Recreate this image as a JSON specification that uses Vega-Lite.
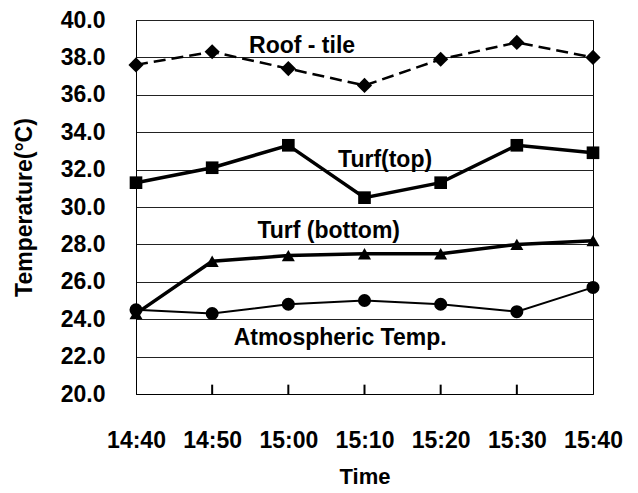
{
  "$schema": "https://vega.github.io/schema/vega-lite/v6.json",
  "width": 457,
  "height": 374,
  "autosize": "none",
  "padding": {"left": 136, "top": 20, "right": 45, "bottom": 99},
  "background": "white",
  "config": {
    "view": {"stroke": "black", "strokeWidth": 1},
    "font": "Liberation Sans"
  },
  "datasets": {
    "temps": [
      {"time": 0, "temp": 37.6, "series": "Roof-tile"},
      {"time": 10, "temp": 38.3, "series": "Roof-tile"},
      {"time": 20, "temp": 37.4, "series": "Roof-tile"},
      {"time": 30, "temp": 36.5, "series": "Roof-tile"},
      {"time": 40, "temp": 37.9, "series": "Roof-tile"},
      {"time": 50, "temp": 38.8, "series": "Roof-tile"},
      {"time": 60, "temp": 38.0, "series": "Roof-tile"},
      {"time": 0, "temp": 31.3, "series": "Turf (top)"},
      {"time": 10, "temp": 32.1, "series": "Turf (top)"},
      {"time": 20, "temp": 33.3, "series": "Turf (top)"},
      {"time": 30, "temp": 30.5, "series": "Turf (top)"},
      {"time": 40, "temp": 31.3, "series": "Turf (top)"},
      {"time": 50, "temp": 33.3, "series": "Turf (top)"},
      {"time": 60, "temp": 32.9, "series": "Turf (top)"},
      {"time": 0, "temp": 24.3, "series": "Turf (bottom)"},
      {"time": 10, "temp": 27.1, "series": "Turf (bottom)"},
      {"time": 20, "temp": 27.4, "series": "Turf (bottom)"},
      {"time": 30, "temp": 27.5, "series": "Turf (bottom)"},
      {"time": 40, "temp": 27.5, "series": "Turf (bottom)"},
      {"time": 50, "temp": 28.0, "series": "Turf (bottom)"},
      {"time": 60, "temp": 28.2, "series": "Turf (bottom)"},
      {"time": 0, "temp": 24.5, "series": "Atmospheric"},
      {"time": 10, "temp": 24.3, "series": "Atmospheric"},
      {"time": 20, "temp": 24.8, "series": "Atmospheric"},
      {"time": 30, "temp": 25.0, "series": "Atmospheric"},
      {"time": 40, "temp": 24.8, "series": "Atmospheric"},
      {"time": 50, "temp": 24.4, "series": "Atmospheric"},
      {"time": 60, "temp": 25.7, "series": "Atmospheric"}
    ],
    "labels": [
      {"time": 21.8, "temp": 38.6, "label": "Roof - tile"},
      {"time": 32.7, "temp": 32.5, "label": "Turf(top)"},
      {"time": 25.3, "temp": 28.7, "label": "Turf (bottom)"},
      {"time": 26.8, "temp": 23.0, "label": "Atmospheric Temp."}
    ]
  },
  "encoding": {
    "x": {
      "field": "time",
      "type": "quantitative",
      "scale": {"domain": [0, 60], "nice": false, "zero": false},
      "axis": {
        "title": "Time",
        "values": [0, 10, 20, 30, 40, 50, 60],
        "labelExpr": "datum.value < 20 ? '14:' + (40 + datum.value) : (datum.value == 20 ? '15:00' : '15:' + (datum.value - 20))",
        "grid": false,
        "domainColor": "black",
        "ticks": false,
        "labelFontSize": 23,
        "labelFontWeight": "bold",
        "labelColor": "black",
        "labelPadding": 35,
        "labelFlush": false,
        "titleFontSize": 22,
        "titleFontWeight": "bold",
        "titleColor": "black",
        "titlePadding": 14
      }
    },
    "y": {
      "field": "temp",
      "type": "quantitative",
      "scale": {"domain": [20, 40], "nice": false, "zero": false},
      "axis": {
        "title": "Temperature(°C)",
        "values": [20, 22, 24, 26, 28, 30, 32, 34, 36, 38, 40],
        "format": ".1f",
        "grid": true,
        "gridColor": "#222222",
        "gridWidth": 1,
        "gridOpacity": 1,
        "domainColor": "black",
        "ticks": false,
        "labelFontSize": 23,
        "labelFontWeight": "bold",
        "labelColor": "black",
        "labelPadding": 31,
        "titleFontSize": 23,
        "titleFontWeight": "bold",
        "titleColor": "black",
        "titlePadding": 24
      }
    }
  },
  "layer": [
    {
      "data": {"name": "temps"},
      "transform": [{"filter": "datum.series == 'Roof-tile'"}],
      "mark": {"type": "line", "color": "black", "strokeWidth": 2.5, "strokeDash": [12, 6]}
    },
    {
      "data": {"name": "temps"},
      "transform": [{"filter": "datum.series == 'Atmospheric'"}],
      "mark": {"type": "line", "color": "black", "strokeWidth": 2}
    },
    {
      "data": {"name": "temps"},
      "transform": [{"filter": "datum.series == 'Turf (top)' || datum.series == 'Turf (bottom)'"}],
      "mark": {"type": "line", "color": "black", "strokeWidth": 3.5},
      "encoding": {"detail": {"field": "series"}}
    },
    {
      "data": {"name": "temps"},
      "transform": [{"filter": "datum.series == 'Roof-tile'"}],
      "mark": {"type": "point", "shape": "diamond", "filled": true, "color": "black", "opacity": 1, "size": 230}
    },
    {
      "data": {"name": "temps"},
      "transform": [{"filter": "datum.series == 'Turf (top)'"}],
      "mark": {"type": "point", "shape": "square", "filled": true, "color": "black", "opacity": 1, "size": 160}
    },
    {
      "data": {"name": "temps"},
      "transform": [{"filter": "datum.series == 'Turf (bottom)'"}],
      "mark": {"type": "point", "shape": "triangle-up", "filled": true, "color": "black", "opacity": 1, "size": 170}
    },
    {
      "data": {"name": "temps"},
      "transform": [{"filter": "datum.series == 'Atmospheric'"}],
      "mark": {"type": "point", "shape": "circle", "filled": true, "color": "black", "opacity": 1, "size": 170}
    },
    {
      "data": {"name": "labels"},
      "mark": {"type": "text", "font": "Liberation Sans", "fontSize": 23, "fontWeight": "bold", "color": "black", "align": "center", "baseline": "middle"},
      "encoding": {"text": {"field": "label"}}
    },
    {
      "data": {"name": "temps"},
      "transform": [{"filter": "datum.series == 'Atmospheric' && datum.time > 0 && datum.time < 60"}],
      "mark": {"type": "rule", "color": "black", "strokeWidth": 2},
      "encoding": {
        "x": {"field": "time", "type": "quantitative"},
        "y": {"datum": 20, "type": "quantitative"},
        "y2": {"datum": 20.5}
      }
    }
  ]
}
